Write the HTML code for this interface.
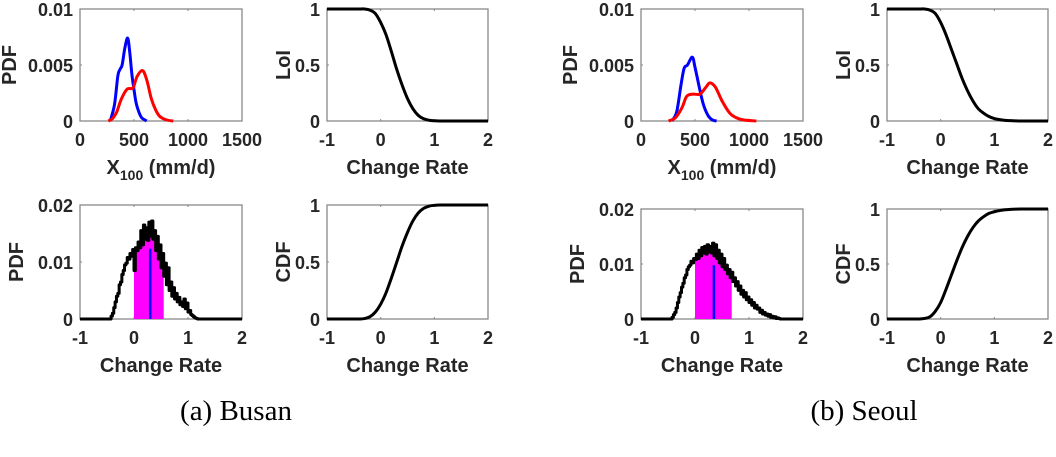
<!DOCTYPE html>
<html><head><meta charset="utf-8"><style>
body{margin:0;background:#fff;width:1056px;height:452px;overflow:hidden}
svg text{font-family:"Liberation Sans",Arial,sans-serif;font-weight:bold;fill:#262626}
.cap{font-family:"Liberation Serif",serif;font-weight:normal;fill:#000}
</style></head><body>
<svg id="fig" width="1056" height="452" viewBox="0 0 1056 452" xmlns="http://www.w3.org/2000/svg">
<text class="cap" x="236" y="420" font-size="29" text-anchor="middle">(a) Busan</text>
<text class="cap" x="864" y="420" font-size="29" text-anchor="middle">(b) Seoul</text>
</svg>
<script>
// ---- data ----
const crTicks = [-1, 0, 1, 2];
const xTicks = [0, 500, 1000, 1500];
const pdfTopTicks = [0, 0.005, 0.01];
const pdfTopTickLabels = ["0", "0.005", "0.01"];
const pdfBotTicks = [0, 0.01, 0.02];
const pdfBotTickLabels = ["0", "0.01", "0.02"];
const unitTicks = [0, 0.5, 1];
const unitTickLabels = ["0", "0.5", "1"];

const busanBlueX = [280, 320, 350, 370, 390, 415, 441, 460, 480, 500, 520, 545, 570, 600, 617];
const busanBlueY = [0, 0.0015, 0.0040, 0.0046, 0.0050, 0.0065, 0.0074, 0.0062, 0.0042, 0.0028, 0.0016, 0.0008, 0.0003, 0.0001, 0];
const busanRedX = [262, 300, 340, 380, 432, 470, 494, 530, 580, 620, 660, 700, 740, 800, 864];
const busanRedY = [0, 0.0002, 0.0008, 0.0019, 0.0028, 0.0029, 0.0030, 0.0040, 0.0045, 0.0036, 0.0020, 0.0010, 0.0004, 0.0001, 0];
const seoulBlueX = [285, 330, 370, 399, 430, 475, 500, 540, 577, 620, 660, 700];
const seoulBlueY = [0, 0.0008, 0.0032, 0.0047, 0.0050, 0.0057, 0.0048, 0.0030, 0.0015, 0.0005, 0.0001, 0];
const seoulRedX = [255, 320, 380, 423, 480, 546, 600, 638, 690, 750, 822, 880, 945, 1068];
const seoulRedY = [0, 0.0003, 0.0012, 0.0022, 0.0024, 0.0024, 0.0030, 0.0034, 0.0030, 0.0018, 0.0007, 0.0003, 0.0001, 0];

const crGrid = [-1,-0.9,-0.8,-0.7,-0.6,-0.5,-0.4,-0.3,-0.2,-0.1,0,0.1,0.2,0.3,0.4,0.5,0.6,0.7,0.8,0.9,1,1.1,1.2,1.3,1.4,1.5,1.6,1.7,1.8,1.9,2];
const busanLoI = [1,1,1,1,1,1,1,1,0.99,0.96,0.88,0.77,0.62,0.46,0.32,0.2,0.11,0.05,0.02,0.007,0.002,0,0,0,0,0,0,0,0,0,0];
const busanCDF = [0,0,0,0,0,0,0,0.004,0.02,0.06,0.13,0.23,0.36,0.5,0.64,0.76,0.86,0.93,0.97,0.99,0.997,1,1,1,1,1,1,1,1,1,1];
const seoulLoI = [1,1,1,1,1,1,1,1,0.99,0.96,0.88,0.77,0.64,0.51,0.38,0.27,0.18,0.11,0.07,0.04,0.022,0.012,0.006,0.003,0.001,0,0,0,0,0,0];
const seoulCDF = [0,0,0,0,0,0,0,0.005,0.02,0.07,0.15,0.27,0.4,0.53,0.65,0.75,0.83,0.89,0.93,0.96,0.975,0.986,0.993,0.997,0.999,1,1,1,1,1,1];

const histStart = -0.45, histStep = 0.025;
const busanHist = [0,0.0005,0.001,0.002,0.003,0.004,0.0045,0.006,0.0065,0.0078,0.0085,0.0095,0.0098,0.0108,0.0105,0.0115,0.011,0.0122,0.0085,0.0125,0.012,0.0135,0.0125,0.0155,0.013,0.0165,0.014,0.016,0.0138,0.017,0.0145,0.0172,0.014,0.0155,0.012,0.0145,0.0105,0.013,0.009,0.0115,0.0075,0.0098,0.006,0.009,0.005,0.0065,0.004,0.0055,0.0035,0.0045,0.003,0.0038,0.0025,0.003,0.0022,0.0035,0.0018,0.0028,0.0012,0.0015,0.0008,0.0006,0.0004,0.0002,0.0001,0];
const seoulHist = [0,0.0003,0.0008,0.0012,0.002,0.003,0.004,0.0048,0.0058,0.0065,0.0075,0.008,0.009,0.0095,0.0098,0.0105,0.0102,0.011,0.0108,0.0118,0.011,0.0125,0.0115,0.013,0.012,0.0132,0.0118,0.0135,0.0122,0.0132,0.012,0.0138,0.0115,0.0135,0.011,0.0125,0.0102,0.0118,0.0095,0.011,0.009,0.0098,0.0082,0.009,0.0075,0.0085,0.0068,0.0075,0.006,0.0068,0.0052,0.006,0.0045,0.0052,0.004,0.0048,0.0035,0.004,0.003,0.0035,0.0025,0.003,0.002,0.0025,0.0018,0.002,0.0012,0.0016,0.0009,0.0012,0.0007,0.0009,0.0005,0.0008,0.0003,0.0005,0.0002,0.0004,0.0001,0.0002,0.0001,0];
const busanBand = [0, 0.55], busanMean = 0.3;
const seoulBand = [0, 0.68], seoulMean = 0.35;

// ---- drawing ----
const NS = "http://www.w3.org/2000/svg";
const svg = document.getElementById('fig');
function mk(tag, attrs, parent) {
  const e = document.createElementNS(NS, tag);
  for (const k in attrs) e.setAttribute(k, attrs[k]);
  (parent || svg).appendChild(e);
  return e;
}
function txt(parent, x, y, s, size, anchor) {
  const t = mk('text', {x: x, y: y, 'font-size': size, 'text-anchor': anchor || 'middle'}, parent);
  t.textContent = s;
  return t;
}
function smooth(pts) {
  let d = 'M' + pts[0][0] + ',' + pts[0][1];
  for (let i = 0; i < pts.length - 1; i++) {
    const p0 = pts[Math.max(i - 1, 0)], p1 = pts[i], p2 = pts[i + 1], p3 = pts[Math.min(i + 2, pts.length - 1)];
    const c1 = [p1[0] + (p2[0] - p0[0]) / 6, p1[1] + (p2[1] - p0[1]) / 6];
    const c2 = [p2[0] - (p3[0] - p1[0]) / 6, p2[1] - (p3[1] - p1[1]) / 6];
    d += 'C' + c1 + ' ' + c2 + ' ' + p2;
  }
  return d;
}
function panel(name, box, xd, yd, xt, xtl, yt, ytl, ylabel, xlabel) {
  const g = mk('g', {});
  
  
  const sx = v => box.l + (v - xd[0]) / (xd[1] - xd[0]) * (box.r - box.l);
  const sy = v => box.b - (v - yd[0]) / (yd[1] - yd[0]) * (box.b - box.t);
  const frame = mk('rect', {x: box.l, y: box.t, width: box.r - box.l, height: box.b - box.t, fill: '#fff', stroke: '#888', 'stroke-width': 1.3}, g);
  
  
  xt.forEach((v, i) => {
    mk('line', {x1: sx(v), x2: sx(v), y1: box.b, y2: box.b - 2, stroke: '#888'}, g);
    mk('line', {x1: sx(v), x2: sx(v), y1: box.t, y2: box.t + 2, stroke: '#888'}, g);
    const t = txt(g, sx(v), box.b + 25, xtl[i], 18);
    
    
  });
  yt.forEach((v, i) => {
    mk('line', {x1: box.l, x2: box.l + 2, y1: sy(v), y2: sy(v), stroke: '#888'}, g);
    const t = txt(g, box.l - 7, sy(v) + 7, ytl[i], 18, 'end');
    
    
  });
  const yl = txt(g, 0, 0, ylabel, 20);
  yl.setAttribute('transform', 'translate(' + (box.l - (ylabel === 'PDF' && yd[1] === 0.01 ? 64 : (ylabel === 'PDF' ? 57 : 37))) + ',' + ((box.t + box.b) / 2) + ') rotate(-90)');
  
  
  if (xlabel === 'X') {
    const xl = mk('text', {x: (box.l + box.r) / 2, y: box.b + 53, 'font-size': 20, 'text-anchor': 'middle'}, g);
    xl.innerHTML = 'X<tspan font-size="14" dy="6">100</tspan><tspan dy="-6"> (mm/d)</tspan>';
    
    
  } else {
    const xl = txt(g, (box.l + box.r) / 2, box.b + 53, xlabel, 20);
    
    
  }
  return {g, sx, sy};
}
function curve(p, xs, ys, color, name, sm) {
  const pts = xs.map((x, i) => [p.sx(x), p.sy(ys[i])]);
  const e = mk('path', {d: sm ? smooth(pts) : 'M' + pts.join('L'), fill: 'none', stroke: color, 'stroke-width': 3, 'stroke-linejoin': 'round'}, p.g);
  
  
}
function hist(p, vals, band, mean, name) {
  const xs = vals.map((v, i) => histStart + i * histStep);
  let d = 'M' + p.sx(band[0]) + ',' + p.sy(0);
  xs.forEach((x, i) => {
    const x1 = x, x2 = x + histStep;
    const a = Math.max(x1, band[0]), b = Math.min(x2, band[1]);
    if (b > a) d += 'L' + p.sx(a) + ',' + p.sy(vals[i]) + 'L' + p.sx(b) + ',' + p.sy(vals[i]);
  });
  d += 'L' + p.sx(band[1]) + ',' + p.sy(0) + 'Z';
  const f = mk('path', {d: d, fill: '#ff00ff', stroke: 'none'}, p.g);
  
  
  let s = 'M' + p.sx(-1) + ',' + p.sy(0) + 'L' + p.sx(histStart) + ',' + p.sy(0);
  xs.forEach((x, i) => { s += 'L' + p.sx(x) + ',' + p.sy(vals[i]) + 'L' + p.sx(x + histStep) + ',' + p.sy(vals[i]); });
  s += 'L' + p.sx(2) + ',' + p.sy(0);
  const l = mk('path', {d: s, fill: 'none', stroke: '#000', 'stroke-width': 3, 'stroke-linejoin': 'round'}, p.g);
  
  
  const idx = Math.floor((mean - histStart) / histStep);
  const m = mk('line', {x1: p.sx(mean), x2: p.sx(mean), y1: p.sy(0), y2: p.sy(vals[idx] * 0.85), stroke: '#0000ff', 'stroke-width': 2.5}, p.g);
  
  
}
const crL = crTicks.map(String), xL = xTicks.map(String);
function city(prefix, x0a, x0b, botTop, blueX, blueY, redX, redY, loi, cdf, hv, band, mean) {
  const p1 = panel(prefix + '-x100-pdf', {l: x0a, r: x0a + 162, t: 9, b: 121}, [0, 1500], [0, 0.01], xTicks, xL, pdfTopTicks, pdfTopTickLabels, 'PDF', 'X');
  curve(p1, blueX, blueY, '#0000ff', 'blue-pdf', true);
  curve(p1, redX, redY, '#ff0000', 'red-pdf', true);
  const p2 = panel(prefix + '-loi', {l: x0b, r: x0b + 161, t: 9, b: 121}, [-1, 2], [0, 1], crTicks, crL, unitTicks, unitTickLabels, 'LoI', 'Change Rate');
  curve(p2, crGrid, loi, '#000', 'loi-curve', true);
  const p3 = panel(prefix + '-change-pdf', {l: x0a, r: x0a + 162, t: botTop, b: 319}, [-1, 2], [0, 0.02], crTicks, crL, pdfBotTicks, pdfBotTickLabels, 'PDF', 'Change Rate');
  hist(p3, hv, band, mean, 'change-rate-hist');
  const p4 = panel(prefix + '-cdf', {l: x0b, r: x0b + 161, t: botTop, b: 319}, [-1, 2], [0, 1], crTicks, crL, unitTicks, unitTickLabels, 'CDF', 'Change Rate');
  curve(p4, crGrid, cdf, '#000', 'cdf-curve', true);
}
city('busan', 80, 327, 205, busanBlueX, busanBlueY, busanRedX, busanRedY, busanLoI, busanCDF, busanHist, busanBand, busanMean);
city('seoul', 641, 887, 209, seoulBlueX, seoulBlueY, seoulRedX, seoulRedY, seoulLoI, seoulCDF, seoulHist, seoulBand, seoulMean);
</script>
</body></html>
